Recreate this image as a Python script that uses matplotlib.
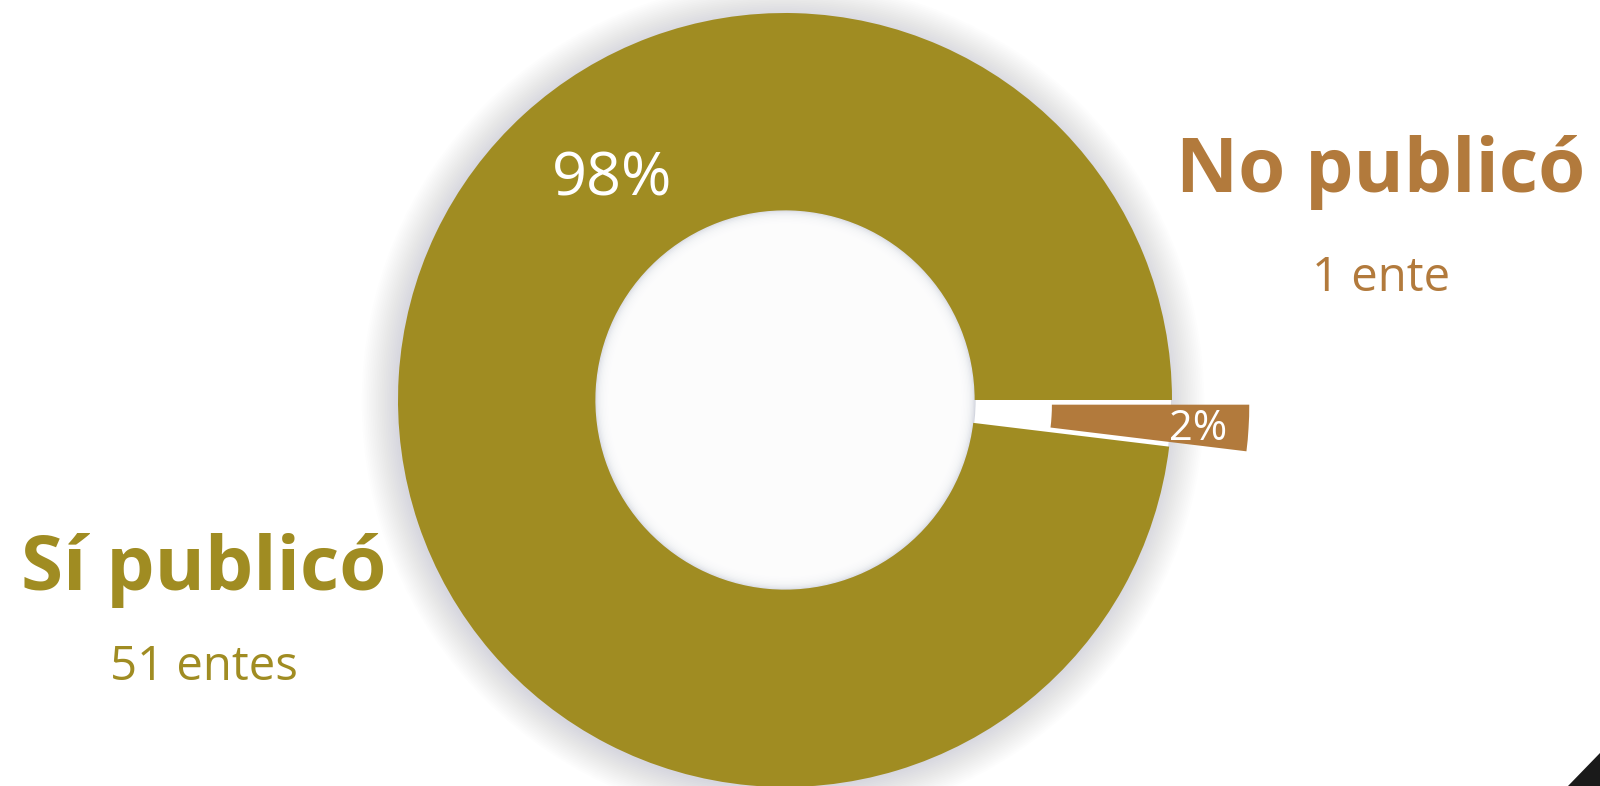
import numpy as np
import matplotlib.pyplot as plt
from matplotlib.patches import Circle, Polygon

# datos
categorias = ['Sí publicó', 'No publicó']
entes = [51, 1]
porcentajes = ['98%', '2%']
subtitulos = ['51 entes', '1 ente']
colores = ['#A08C22', '#B27A3C']

plt.rcParams['font.family'] = ['Open Sans', 'DejaVu Sans']

fig = plt.figure(figsize=(16, 7.86), dpi=100)
ax = fig.add_axes([0, 0, 1, 1])

cx, cy, r = 785, 386, 387
ancho = 0.51
r_in = r * (1 - ancho)
sep = 0.2 * r

# sombra difusa alrededor del anillo
for i in range(20):
    ax.add_patch(Circle((cx - 2, cy - 2), r + 1.8 * i, color='#8c92a8',
                        alpha=0.016, lw=0, zorder=0))
ax.add_patch(Circle((cx, cy), r - 1, color='white', lw=0, zorder=0.5))

wedges, _ = ax.pie(entes, colors=colores, center=(cx, cy), radius=r,
                   startangle=0, counterclock=True,
                   explode=[0, sep], frame=True,
                   wedgeprops=dict(width=r * ancho, linewidth=0))
for w in wedges:
    w.set_zorder(2)

# hueco con sombra interior suave
ax.add_patch(Circle((cx, cy), r_in + 1, color='#d3d6df', lw=0, zorder=1))
for i in range(24):
    ax.add_patch(Circle((cx, cy), r_in - 1.4 * i, color='white',
                        alpha=0.28, lw=0, zorder=1))

# etiquetas de porcentaje
ax.text(612, 786 - 179, porcentajes[0], color='white', fontsize=44,
        ha='center', va='center', zorder=5)
w2 = wedges[1]
ang = np.deg2rad((w2.theta1 + w2.theta2) / 2)
dist = sep + 0.87 * r
ax.text(cx + dist * np.cos(ang), cy + dist * np.sin(ang) - 4, porcentajes[1],
        color='white', fontsize=30, ha='center', va='center', zorder=5)

# rótulos laterales
ax.text(1381, 786 - 172, categorias[1], color=colores[1], fontsize=55,
        fontweight='bold', ha='center', va='center')
ax.text(1381, 786 - 278, subtitulos[1], color=colores[1], fontsize=34,
        ha='center', va='center')
ax.text(204, 786 - 571, categorias[0], color=colores[0], fontsize=55,
        fontweight='bold', ha='center', va='center')
ax.text(204, 786 - 667, subtitulos[0], color=colores[0], fontsize=34,
        ha='center', va='center')

# esquina decorativa
ax.add_patch(Polygon([[1568, 0], [1600, 0], [1600, 33]], closed=True,
                     color='#1a1a1a', lw=0, zorder=6))

ax.set_xlim(0, 1600)
ax.set_ylim(0, 786)
ax.set_aspect('equal')
ax.axis('off')

fig.savefig('out.png', dpi=100)
